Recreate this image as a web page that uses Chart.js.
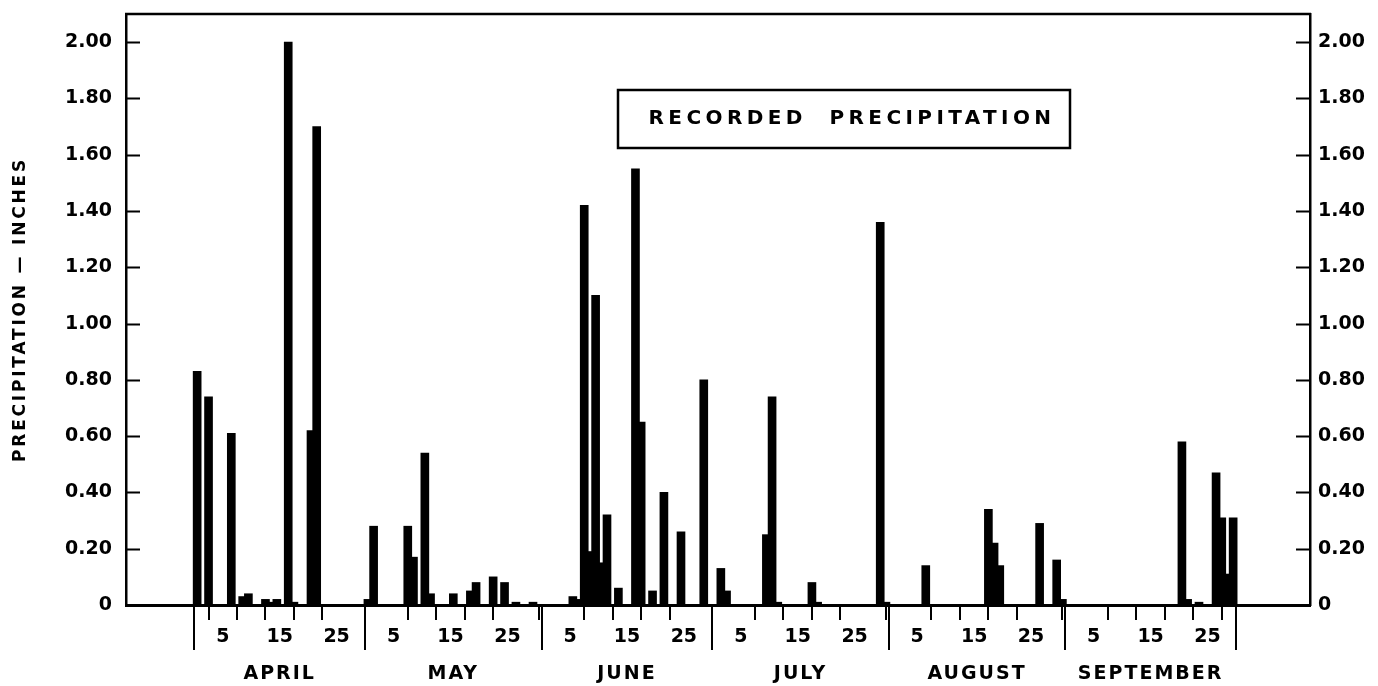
<!DOCTYPE html>
<html>
<head>
<meta charset="utf-8">
<style>
  html, body { margin: 0; padding: 0; background: #fff; }
  #chart-container { width: 1378px; height: 686px; }
</style>
</head>
<body>
<div id="chart-container">
  <canvas id="myChart" width="1378" height="686"></canvas>
</div>

<script src="https://cdn.jsdelivr.net/npm/chart.js"></script>
<script>
  // daily precipitation in inches, one array per month, day 1 first
  const april = [0.83, 0, 0.74, 0, 0, 0, 0.61, 0, 0.03, 0.04,
                 0, 0, 0.02, 0.01, 0.02, 0, 2.00, 0.01, 0, 0,
                 0.62, 1.70, 0, 0, 0, 0, 0, 0, 0, 0];
  const may = [0.02, 0.28, 0, 0, 0, 0, 0, 0.28, 0.17, 0,
               0.54, 0.04, 0, 0, 0, 0.04, 0, 0, 0.05, 0.08,
               0, 0, 0.10, 0, 0.08, 0, 0.01, 0, 0, 0.01, 0];
  const june = [0, 0, 0, 0, 0, 0.03, 0.02, 1.42, 0.19, 1.10,
                0.15, 0.32, 0, 0.06, 0, 0, 1.55, 0.65, 0, 0.05,
                0, 0.40, 0, 0, 0.26, 0, 0, 0, 0.80, 0];
  const july = [0, 0.13, 0.05, 0, 0, 0, 0, 0, 0, 0.25,
                0.74, 0.01, 0, 0, 0, 0, 0, 0.08, 0.01, 0,
                0, 0, 0, 0, 0, 0, 0, 0, 0, 1.36, 0.01];
  const august = [0, 0, 0, 0, 0, 0, 0.14, 0, 0, 0,
                  0, 0, 0, 0, 0, 0, 0, 0.34, 0.22, 0.14,
                  0, 0, 0, 0, 0, 0, 0.29, 0, 0, 0.16, 0.02];
  const september = [0, 0, 0, 0, 0, 0, 0, 0, 0, 0,
                     0, 0, 0, 0, 0, 0, 0, 0, 0, 0,
                     0.58, 0.02, 0, 0.01, 0, 0, 0.47, 0.31, 0.11, 0.31];

  const monthNames = ['APRIL', 'MAY', 'JUNE', 'JULY', 'AUGUST', 'SEPTEMBER'];
  const months = [april, may, june, july, august, september];

  // marks under every month
  const dayMarks = [5, 10, 15, 20, 25];
  const dayMarkLabels = ['5', '', '15', '', '25'];

  const yTicks = [0, 0.2, 0.4, 0.6, 0.8, 1.0, 1.2, 1.4, 1.6, 1.8, 2.0];
  const yTickLabels = ['0', '0.20', '0.40', '0.60', '0.80', '1.00', '1.20', '1.40', '1.60', '1.80', '2.00'];

  const yTitle = 'PRECIPITATION \u2014 INCHES';
  const boxTitle = 'RECORDED  PRECIPITATION';

  // day offsets where each month starts (plus the end of September)
  const monthStart = [0];
  months.forEach(m => monthStart.push(monthStart[monthStart.length - 1] + m.length));

  const points = [];
  months.forEach((m, i) => {
    m.forEach((v, d) => points.push({ x: monthStart[i] + d + 0.5, y: v }));
  });

  const xTickValues = [];
  const xTickText = [];
  months.forEach((m, i) => {
    dayMarks.forEach((d, j) => {
      xTickValues.push(monthStart[i] + d);
      xTickText.push(dayMarkLabels[j]);
    });
  });

  const labelFont = { family: 'DejaVu Sans', size: 19, weight: 'bold' };

  const noPad = s => { s.paddingTop = 0; s.paddingBottom = 0; s.paddingLeft = 0; s.paddingRight = 0; };

  const extras = {
    id: 'extras',
    afterDraw(chart) {
      const { ctx, chartArea: a, scales: { x, y } } = chart;
      ctx.save();
      ctx.strokeStyle = '#000';
      ctx.fillStyle = '#000';
      ctx.lineCap = 'butt';

      // top of the frame
      ctx.lineWidth = 2.5;
      ctx.beginPath();
      ctx.moveTo(a.left - 1, a.top);
      ctx.lineTo(a.right + 1, a.top);
      ctx.stroke();

      // inward ticks on both sides
      ctx.lineWidth = 2;
      yTicks.forEach(v => {
        if (v === 0) return;
        const py = Math.round(y.getPixelForValue(v)) + 0.5;
        ctx.beginPath();
        ctx.moveTo(a.left, py);
        ctx.lineTo(a.left + 14, py);
        ctx.moveTo(a.right, py);
        ctx.lineTo(a.right - 14, py);
        ctx.stroke();
      });

      // month separators and names
      ctx.lineWidth = 2;
      monthStart.forEach(s => {
        const px = Math.round(x.getPixelForValue(s));
        ctx.beginPath();
        ctx.moveTo(px, a.bottom);
        ctx.lineTo(px, a.bottom + 45);
        ctx.stroke();
      });
      ctx.font = 'bold 19px "DejaVu Sans"';
      ctx.letterSpacing = '2px';
      ctx.textAlign = 'center';
      ctx.textBaseline = 'middle';
      monthNames.forEach((n, i) => {
        const px = x.getPixelForValue((monthStart[i] + monthStart[i + 1]) / 2);
        ctx.fillText(n, px, a.bottom + 69);
      });

      // axis title
      ctx.save();
      ctx.translate(21, (a.top + a.bottom) / 2);
      ctx.rotate(-Math.PI / 2);
      ctx.font = 'bold 17px "DejaVu Sans"';
      ctx.letterSpacing = '2.8px';
      ctx.fillText(yTitle, 0, 0);
      ctx.restore();

      // boxed caption
      const bx = a.left + 492, by = 90, bw = 452, bh = 58;
      ctx.lineWidth = 2.5;
      ctx.strokeRect(bx, by, bw, bh);
      ctx.font = 'bold 20px "DejaVu Sans"';
      ctx.letterSpacing = '4.4px';
      ctx.fillText(boxTitle, bx + bw / 2 + 8, by + bh / 2);
      ctx.restore();
    }
  };

  new Chart(document.getElementById('myChart'), {
    type: 'bar',
    data: {
      datasets: [{
        data: points,
        backgroundColor: '#000',
        borderWidth: 0,
        barThickness: 8,
        yAxisID: 'y'
      }]
    },
    options: {
      responsive: false,
      animation: false,
      layout: { padding: { top: 14, left: 0, right: 0, bottom: 0 } },
      plugins: { legend: { display: false }, tooltip: { enabled: false } },
      scales: {
        x: {
          type: 'linear',
          offset: false,
          min: -12,
          max: 196,
          afterBuildTicks: s => { s.ticks = xTickValues.map(v => ({ value: v })); },
          afterFit: s => { s.height = 81; noPad(s); },
          ticks: {
            autoSkip: false,
            maxRotation: 0,
            padding: 6,
            color: '#000',
            font: labelFont,
            callback: (v, i) => xTickText[i]
          },
          grid: { drawOnChartArea: false, tickLength: 15, color: '#000', lineWidth: 2 },
          border: { display: true, color: '#000', width: 3 }
        },
        y: {
          position: 'left',
          min: 0,
          max: 2.1,
          afterBuildTicks: s => { s.ticks = yTicks.map(v => ({ value: v })); },
          afterFit: s => { s.width = 126; noPad(s); },
          ticks: { padding: 14, color: '#000', font: labelFont, callback: (v, i) => yTickLabels[i] },
          grid: { display: false, drawTicks: false },
          border: { display: true, color: '#000', width: 2.5 }
        },
        y2: {
          position: 'right',
          min: 0,
          max: 2.1,
          afterBuildTicks: s => { s.ticks = yTicks.map(v => ({ value: v })); },
          afterFit: s => { s.width = 68; noPad(s); },
          ticks: { padding: 8, color: '#000', font: labelFont, callback: (v, i) => yTickLabels[i] },
          grid: { display: false, drawTicks: false },
          border: { display: true, color: '#000', width: 2.5 }
        }
      }
    },
    plugins: [extras]
  });
</script>
</body>
</html>
